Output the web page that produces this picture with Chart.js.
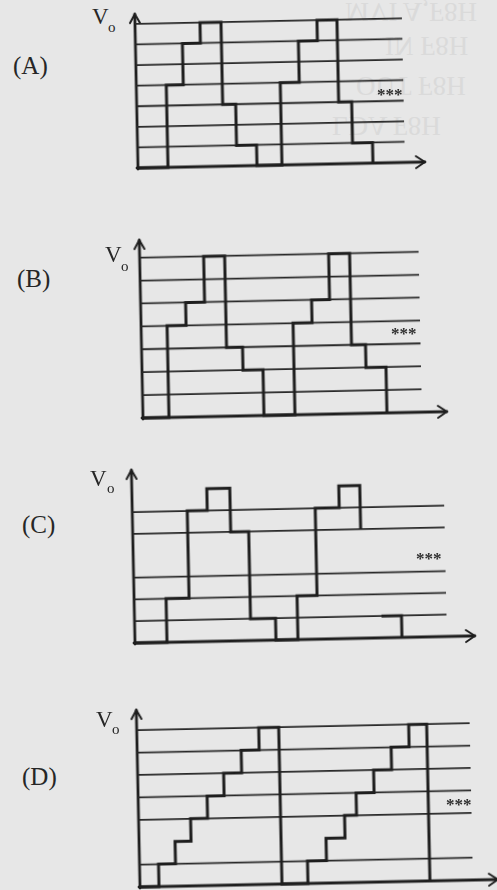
<!DOCTYPE html>
<html><head><meta charset="utf-8">
<script src="https://cdn.jsdelivr.net/npm/chart.js@4"></script>
<style>
html,body{margin:0;padding:0;}
body{width:497px;height:890px;overflow:hidden;background:#e7e7e7;position:relative;font-family:"Liberation Serif","DejaVu Serif",serif;color:#262626;}
.lbl{position:absolute;font-size:25px;line-height:25px;white-space:nowrap;}
.v{position:absolute;font-size:23px;line-height:23px;}
.sub{position:absolute;font-size:15px;line-height:15px;}
.ast{position:absolute;font-size:17px;line-height:17px;letter-spacing:0px;color:#2e2e2e;font-weight:bold;}
.ghost{position:absolute;font-size:27px;line-height:27px;color:#dadada;transform:scaleY(-1);white-space:nowrap;}
canvas{position:absolute;}
</style></head><body>
<div class="ghost" style="left:345px;top:-2px;">MVI A,F8H</div>
<div class="ghost" style="left:385px;top:32px;">IN F8H</div>
<div class="ghost" style="left:356px;top:72px;">OUT F8H</div>
<div class="ghost" style="left:332px;top:112px;">LDA F8H</div>
<script>
// ---- data (time units, output level) ----
const panelNames = ["(A)", "(B)", "(C)", "(D)"];
const axisLabel = "V";
const axisSub = "o";
const moreMark = "***";

const timesA  = [0, 30, 47, 65, 86, 99, 119, 144, 163, 182, 202, 215, 235];
const levelsA = [0, 4, 6, 7, 3, 1, 0, 4, 6, 7, 3, 1, 0];
const gridA   = [1, 2, 3, 4, 5, 6, 7];

const timesB  = [0, 26, 45, 64, 85, 101, 121, 152, 171, 189, 210, 224, 244];
const levelsB = [0, 4, 5, 7, 3, 2, 0, 4, 5, 7, 3, 2, 0];
const gridB   = [1, 2, 3, 4, 5, 6, 7];

const timesC  = [0, 32, 55, 75, 98, 116, 141, 163, 183, 207, 228, 240, 247, 267];
const levelsC = [0, 2, 6, 7, 5, 1, 0, 2, 6, 7, 5, null, 1, 0];
const gridC   = [1, 2, 3, 5, 6];

const timesD  = [0, 19, 36, 52, 69, 86, 104, 122, 142, 168, 187, 206, 218, 236, 254, 272, 290];
const levelsD = [0, 1, 2, 3, 4, 5, 6, 7, 0, 1, 2, 3, 4, 5, 6, 7, 0];
const gridD   = [1, 3, 4, 5, 6, 7];

// ---- layout (pixels) ----
const layouts = [
  {times: timesA, levels: levelsA, grid: gridA, ox: 138, oy: 168, unitY: 20.6, xEnd: 287, yTop: 7.48, gridEnd: 267,
   lbl: [13, 53], v: [92, 5], sub: [108, 20], ast: [377, 86]},
  {times: timesB, levels: levelsB, grid: gridB, ox: 143, oy: 418, unitY: 22.9, xEnd: 304, yTop: 7.77, gridEnd: 279,
   lbl: [17, 266], v: [105, 243], sub: [121, 259], ast: [391, 325]},
  {times: timesC, levels: levelsC, grid: gridC, ox: 135, oy: 643, unitY: 21.8, xEnd: 340, yTop: 7.93, gridEnd: 312,
   lbl: [22, 512], v: [90, 467], sub: [107, 481], ast: [416, 550]},
  {times: timesD, levels: levelsD, grid: gridD, ox: 140, oy: 887, unitY: 22.4, xEnd: 358, yTop: 7.9, gridEnd: 333,
   lbl: [22, 764], v: [96, 708], sub: [112, 722], ast: [446, 796]}
];
const pad = {left: 14, right: 14, top: 12, bottom: 8};
const ink = '#1e1e1e';

const axesPlugin = {
  id: 'axesArrows',
  beforeDatasetsDraw(chart) {
    const {ctx, scales: {x, y}} = chart;
    const x0 = x.getPixelForValue(0), y0 = y.getPixelForValue(0);
    const xe = x.getPixelForValue(x.max), yt = y.getPixelForValue(y.max);
    ctx.save();
    ctx.strokeStyle = ink;
    ctx.lineWidth = 2.8;
    ctx.lineCap = 'round';
    ctx.lineJoin = 'round';
    ctx.beginPath();
    ctx.moveTo(x0, y0 + 1); ctx.lineTo(x0, yt);
    ctx.moveTo(x0 - 1, y0); ctx.lineTo(xe, y0);
    ctx.stroke();
    ctx.lineWidth = 2;
    ctx.beginPath();
    ctx.moveTo(x0 - 5, yt + 9); ctx.lineTo(x0, yt); ctx.lineTo(x0 + 5, yt + 9);
    ctx.moveTo(xe - 9, y0 - 6); ctx.lineTo(xe, y0); ctx.lineTo(xe - 9, y0 + 6);
    ctx.stroke();
    ctx.restore();
  }
};

function addText(cls, txt, pos) {
  const d = document.createElement('div');
  d.className = cls;
  d.textContent = txt;
  d.style.left = pos[0] + 'px';
  d.style.top = pos[1] + 'px';
  document.body.appendChild(d);
}

layouts.forEach((p, i) => {
  const w = p.xEnd + pad.left + pad.right;
  const h = Math.round(p.yTop * p.unitY) + pad.top + pad.bottom;
  const cv = document.createElement('canvas');
  cv.width = w; cv.height = h;
  cv.style.width = w + 'px'; cv.style.height = h + 'px';
  cv.style.left = (p.ox - pad.left) + 'px';
  cv.style.top = (p.oy - (h - pad.bottom)) + 'px';
  cv.style.transformOrigin = pad.left + 'px ' + (h - pad.bottom) + 'px';
  cv.style.transform = 'rotate(-1.2deg)';
  document.body.appendChild(cv);

  const datasets = [{
    data: p.times.map((t, k) => ({x: t, y: p.levels[k]})),
    stepped: 'before',
    borderColor: ink,
    borderWidth: 3,
    pointRadius: 0,
    spanGaps: false,
    borderJoinStyle: 'miter',
    clip: 10,
    order: 0
  }];
  p.grid.forEach(L => datasets.push({
    data: [{x: 0, y: L}, {x: p.gridEnd, y: L}],
    borderColor: '#282828',
    borderWidth: 1.8,
    pointRadius: 0,
    clip: 10,
    order: 1
  }));

  new Chart(cv, {
    type: 'line',
    data: {datasets},
    options: {
      responsive: false,
      animation: false,
      devicePixelRatio: 1,
      layout: {padding: pad},
      plugins: {legend: {display: false}, tooltip: {enabled: false}},
      scales: {
        x: {type: 'linear', min: 0, max: p.xEnd, display: false},
        y: {type: 'linear', min: 0, max: p.yTop, display: false}
      }
    },
    plugins: [axesPlugin]
  });

  addText('lbl', panelNames[i], p.lbl);
  addText('v', axisLabel, p.v);
  addText('sub', axisSub, p.sub);
  addText('ast', moreMark, p.ast);
});
</script>
</body></html>
